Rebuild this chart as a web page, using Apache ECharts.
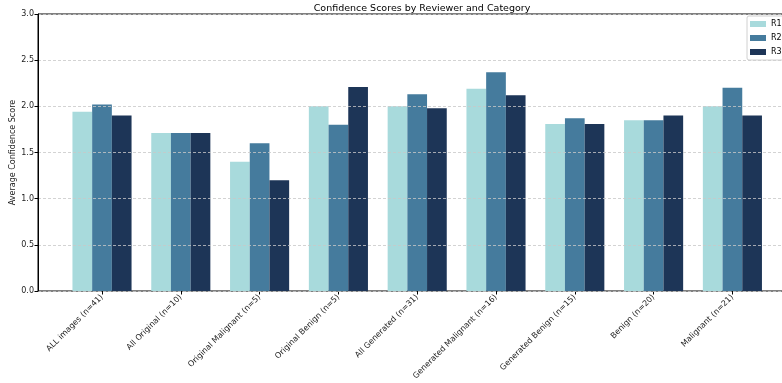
<!DOCTYPE html>
<html>
<head>
<meta charset="utf-8">
<script src="https://cdn.jsdelivr.net/npm/echarts@6/dist/echarts.min.js"></script>
<style>html,body{margin:0;padding:0;background:#fff;}#c{width:782px;height:383px;}</style>
</head>
<body>
<div id="c"></div>
<script>
const categories = ['ALL images (n=41)','All Original (n=10)','Original Malignant (n=5)','Original Benign (n=5)','All Generated (n=31)','Generated Malignant (n=16)','Generated Benign (n=15)','Benign (n=20)','Malignant (n=21)'];
const r1 = [1.94, 1.71, 1.40, 2.00, 2.00, 2.19, 1.81, 1.85, 2.00];
const r2 = [2.02, 1.71, 1.60, 1.80, 2.13, 2.37, 1.87, 1.85, 2.20];
const r3 = [1.90, 1.71, 1.20, 2.21, 1.98, 2.12, 1.81, 1.90, 1.90];
const seriesNames = ['R1','R2','R3'];
const colors = ['#a8dadc','#457b9d','#1d3557'];
const font = 'DejaVu Sans';

const chart = echarts.init(document.getElementById('c'), null, {renderer:'canvas'});
const gTop = 14, gHeight = 277;
chart.setOption({
  animation:false,
  backgroundColor:'#fff',
  title:{text:'Confidence Scores by Reviewer and Category', left:417, textAlign:'center', top:-1,
    textStyle:{fontFamily:font, fontSize:9.5, fontWeight:'normal', color:'#000'}},
  legend:{orient:'vertical', left:747, top:16, itemWidth:16, itemHeight:6, itemGap:6,
    padding:[4,4,4,3], borderColor:'#d0d0d0', borderWidth:1, borderRadius:2, backgroundColor:'rgba(255,255,255,0.8)',
    textStyle:{fontFamily:font, fontSize:8, color:'#000'}, icon:'rect', data:seriesNames},
  grid:[
    {left:38, width:758, top:gTop, height:gHeight, show:true, borderColor:'#000', borderWidth:1, backgroundColor:'transparent', containLabel:false, outerBoundsMode:'none'},
    {left:62.6, width:709.2, top:gTop, height:gHeight, containLabel:false, outerBoundsMode:'none'}
  ],
  xAxis:[
    {gridIndex:0, type:'value', min:0, max:1, show:false},
    {gridIndex:1, type:'category', data:categories, boundaryGap:true,
      axisLine:{show:false}, axisTick:{show:true, alignWithLabel:true, length:3.5, lineStyle:{color:'#000'}},
      axisLabel:{rotate:45, interval:0, fontFamily:font, fontSize:8, color:'#222', margin:5}}
  ],
  yAxis:[
    {gridIndex:0, type:'value', min:0, max:3, interval:0.5, z:3,
      name:'Average Confidence Score', nameLocation:'middle', nameGap:21, nameRotate:90, nameMoveOverlap:false,
      nameTextStyle:{fontFamily:font, fontSize:8, color:'#222'},
      axisLine:{show:true, lineStyle:{color:'#000'}}, axisTick:{show:true, length:3.5, lineStyle:{color:'#000'}},
      axisLabel:{fontFamily:font, fontSize:8, color:'#222', margin:4, formatter:v=>v.toFixed(1)},
      splitLine:{show:true, lineStyle:{color:'#c8c8c8', type:[3,2], width:0.8}}},
    {gridIndex:1, type:'value', min:0, max:3, interval:0.5, show:false, splitLine:{show:false}}
  ],
  series:[r1,r2,r3].map((d,i)=>({
    name:seriesNames[i], type:'bar', xAxisIndex:1, yAxisIndex:1, data:d,
    barWidth:'25%', barGap:'0%', itemStyle:{color:colors[i]}
  }))
});
</script>
</body>
</html>
